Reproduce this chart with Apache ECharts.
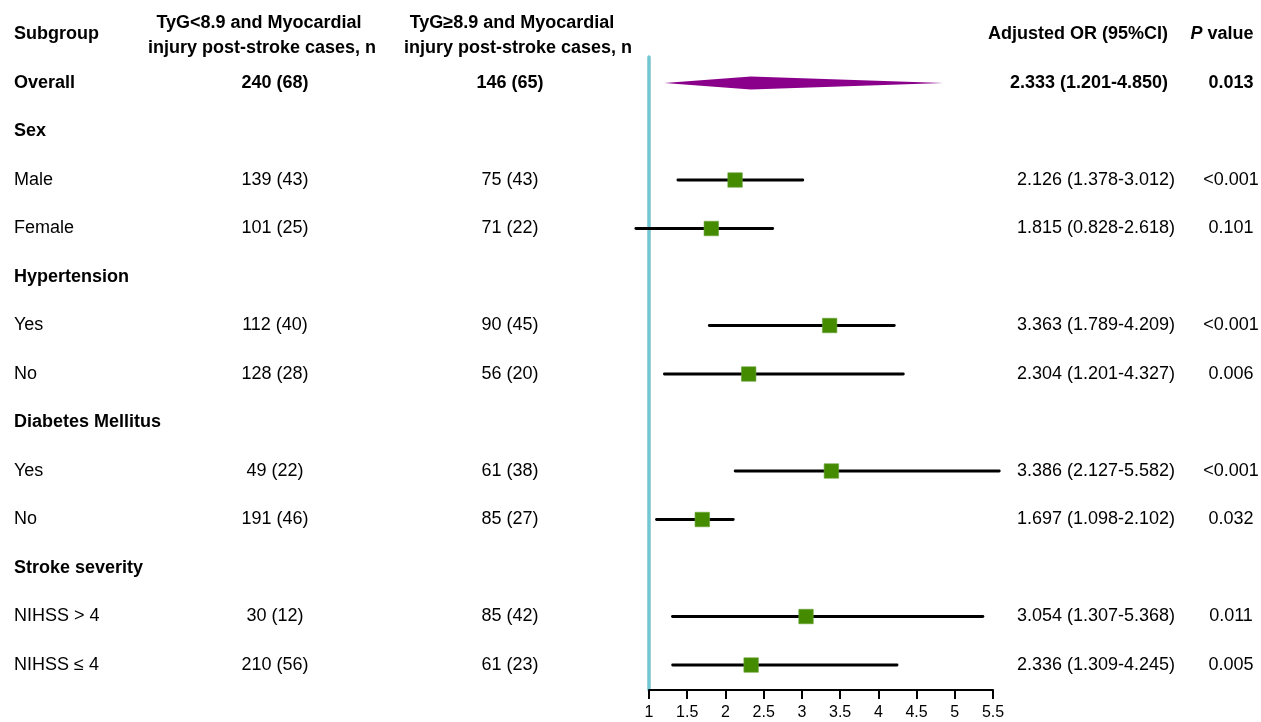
<!DOCTYPE html>
<html>
<head>
<meta charset="utf-8">
<script src="https://cdn.jsdelivr.net/npm/echarts@6/dist/echarts.min.js"></script>
<style>html,body{margin:0;padding:0;background:#fff}#c{width:1261px;height:722px}</style>
</head>
<body>
<div id="c"></div>
<script>
// ---- data ----
var subgroups = ['Overall','Sex','Male','Female','Hypertension','Yes','No','Diabetes Mellitus','Yes','No','Stroke severity','NIHSS > 4','NIHSS \u2264 4'];
var boldRows = [true,true,false,false,true,false,false,true,false,false,true,false,false];
var lowTygCases = ['240 (68)','','139 (43)','101 (25)','','112 (40)','128 (28)','','49 (22)','191 (46)','','30 (12)','210 (56)'];
var highTygCases = ['146 (65)','','75 (43)','71 (22)','','90 (45)','56 (20)','','61 (38)','85 (27)','','85 (42)','61 (23)'];
var oddsRatio = [2.333,null,2.126,1.815,null,3.363,2.304,null,3.386,1.697,null,3.054,2.336];
var ciLower = [1.201,null,1.378,0.828,null,1.789,1.201,null,2.127,1.098,null,1.307,1.309];
var ciUpper = [4.850,null,3.012,2.618,null,4.209,4.327,null,5.582,2.102,null,5.368,4.245];
var pValues = ['0.013','','<0.001','0.101','','<0.001','0.006','','<0.001','0.032','','0.011','0.005'];
var xTicks = [1,1.5,2,2.5,3,3.5,4,4.5,5,5.5];

// ---- chart ----
var FONT = '"Liberation Sans", Arial, Helvetica, sans-serif';
var chart = echarts.init(document.getElementById('c'), null, {renderer:'canvas'});
var rowIdx = subgroups.map(function(_, i){ return i; });

function txt(x, y, s, align, bold){
  return {type:'text', x:x, y:y, silent:true, style:{
    text:s, textAlign:align, textVerticalAlign:'middle',
    font:(bold?'bold ':'')+'18px '+FONT, fill:'#000'}};
}

var yRange = {min:-0.536, max:12.515};

var option = {
  animation:false,
  backgroundColor:'#fff',
  grid:[
    {left:0, top:57, width:1261, height:633},
    {left:649, top:57, width:344, height:633}
  ],
  xAxis:[
    {gridIndex:0, type:'value', min:0, max:1261, show:false},
    {gridIndex:1, type:'value', position:'bottom', min:xTicks[0], max:xTicks[xTicks.length-1], interval:0.5,
     axisLine:{show:true, onZero:false, lineStyle:{color:'#000', width:2}},
     axisTick:{show:true, length:9, lineStyle:{color:'#000', width:2}},
     axisLabel:{color:'#000', fontSize:16, fontFamily:FONT, margin:15},
     splitLine:{show:false}}
  ],
  yAxis:[
    {gridIndex:0, type:'value', inverse:true, min:yRange.min, max:yRange.max, show:false},
    {gridIndex:1, type:'value', inverse:true, min:yRange.min, max:yRange.max,
     axisLine:{show:true, onZero:false, lineStyle:{color:'#73C5D2', width:3.5}},
     axisTick:{show:false}, axisLabel:{show:false}, splitLine:{show:false}}
  ],
  series:[
    {
      type:'custom', xAxisIndex:0, yAxisIndex:0, clip:false, silent:true,
      data: [-1].concat(rowIdx),
      renderItem:function(params, api){
        var r = api.value(0);
        var children = [];
        if (r === -1) {
          var yH = api.coord([0,-1])[1];
          var y1 = api.coord([0,-1.24])[1];
          var y2 = api.coord([0,-0.72])[1];
          children.push(txt(14, yH, 'Subgroup', 'left', true));
          children.push(txt(259, y1, 'TyG<8.9 and Myocardial', 'center', true));
          children.push(txt(262, y2, 'injury post-stroke cases, n', 'center', true));
          children.push(txt(512, y1, 'TyG\u22658.9 and Myocardial', 'center', true));
          children.push(txt(518, y2, 'injury post-stroke cases, n', 'center', true));
          children.push(txt(1168, yH, 'Adjusted OR (95%CI)', 'right', true));
          children.push({type:'text', x:1222, y:yH, silent:true, style:{
            text:'{i|P} {b|value}', textAlign:'center', textVerticalAlign:'middle',
            rich:{i:{fontStyle:'italic', fontWeight:'bold', fontSize:18, fontFamily:FONT, fill:'#000', color:'#000'},
                  b:{fontWeight:'bold', fontSize:18, fontFamily:FONT, fill:'#000', color:'#000'}},
            font:'bold 18px '+FONT, fill:'#000'}});
          return {type:'group', children:children};
        }
        var y = api.coord([0,r])[1];
        var isOverall = (r === 0);
        children.push(txt(14, y, subgroups[r], 'left', boldRows[r]));
        if (lowTygCases[r]) children.push(txt(275, y, lowTygCases[r], 'center', isOverall));
        if (highTygCases[r]) children.push(txt(510, y, highTygCases[r], 'center', isOverall));
        if (oddsRatio[r] != null) {
          var s = oddsRatio[r].toFixed(3)+' ('+ciLower[r].toFixed(3)+'-'+ciUpper[r].toFixed(3)+')';
          children.push(txt(isOverall?1168:1175, y, s, 'right', isOverall));
        }
        if (pValues[r]) children.push(txt(1231, y, pValues[r], 'center', isOverall));
        return {type:'group', children:children};
      }
    },
    {
      type:'custom', xAxisIndex:1, yAxisIndex:1, clip:false, silent:true,
      data: rowIdx.filter(function(i){ return oddsRatio[i] != null; }).map(function(i){
        return [i, oddsRatio[i], ciLower[i], ciUpper[i]];
      }),
      renderItem:function(params, api){
        var r = api.value(0);
        var est = api.coord([api.value(1), r]);
        var lo = api.coord([api.value(2), r]);
        var hi = api.coord([api.value(3), r]);
        if (r === 0) {
          var h = 6.5;
          return {type:'polygon', shape:{points:[[lo[0],lo[1]],[est[0],est[1]-h],[hi[0],hi[1]],[est[0],est[1]+h]]},
                  style:{fill:'#8B008B'}};
        }
        var sz = 14.5;
        return {type:'group', children:[
          {type:'line', shape:{x1:lo[0], y1:lo[1], x2:hi[0], y2:hi[1]},
           style:{stroke:'#000', lineWidth:2.8, lineCap:'round'}},
          {type:'rect', shape:{x:est[0]-sz/2, y:est[1]-sz/2, width:sz, height:sz},
           style:{fill:'#458B00', stroke:'#6aa43a', lineWidth:0.6}}
        ]};
      }
    }
  ]
};
chart.setOption(option);
</script>
</body>
</html>
